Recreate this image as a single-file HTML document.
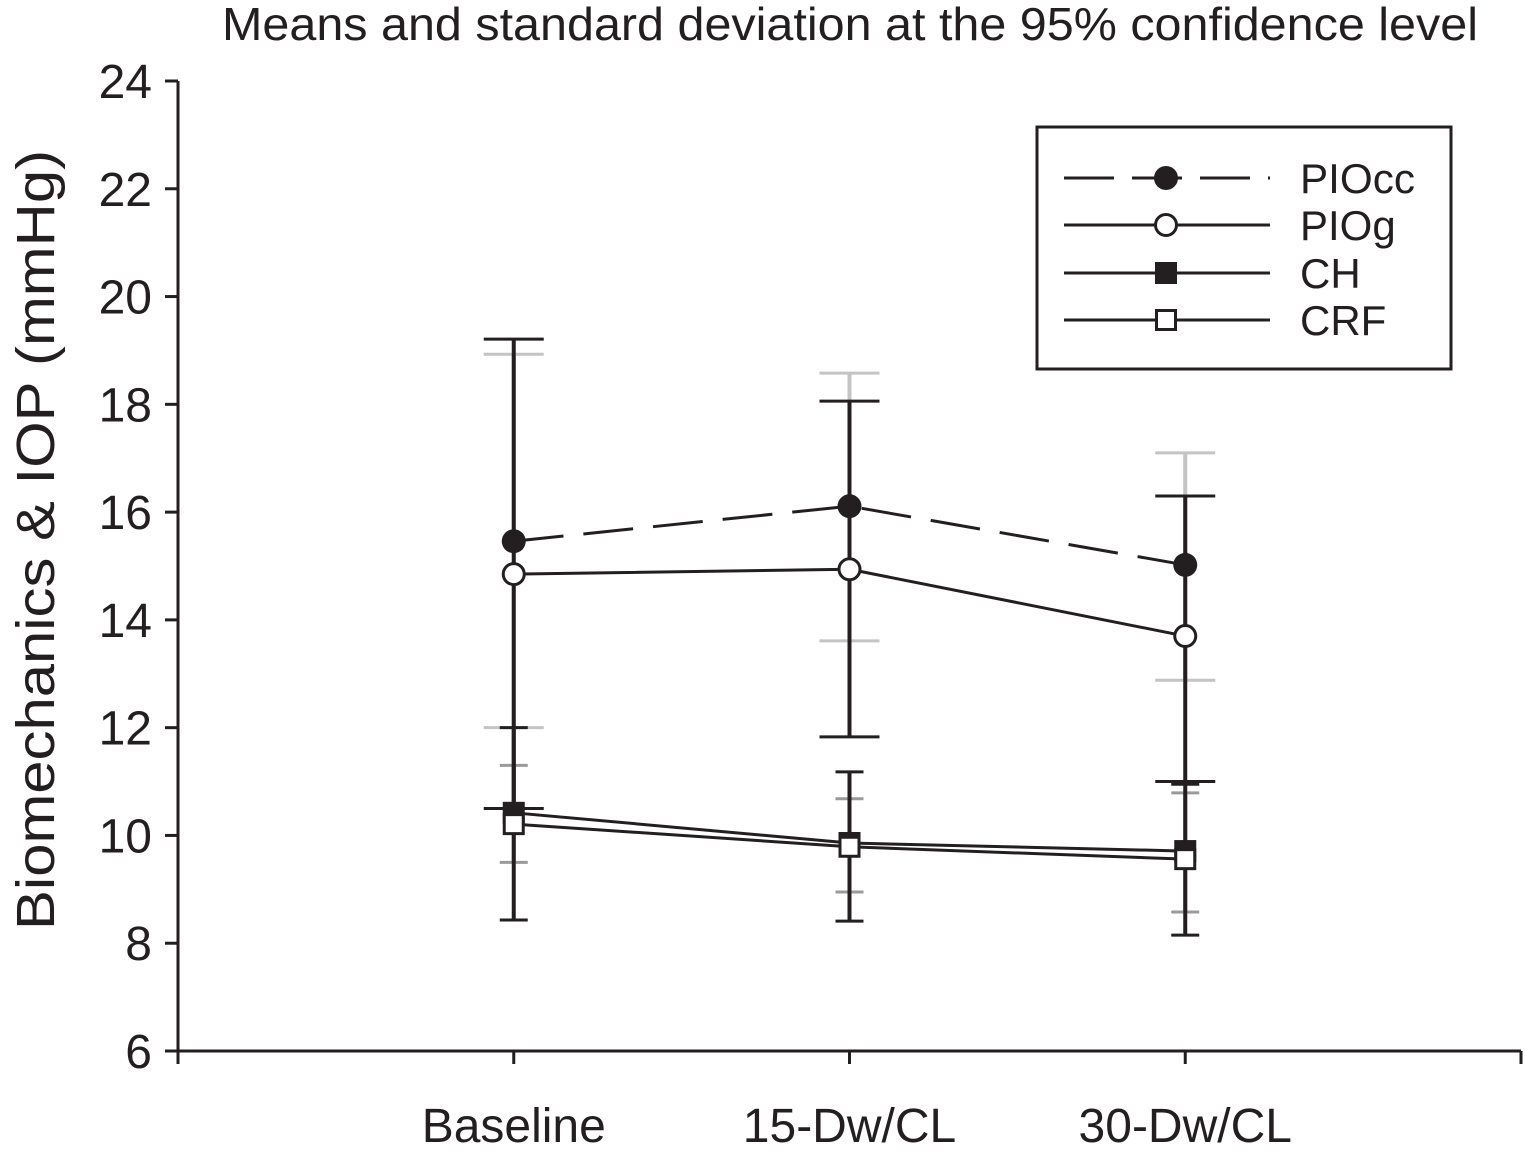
<!DOCTYPE html>
<html><head><meta charset="utf-8"><style>
html,body{margin:0;padding:0;background:#fff;}
svg{display:block;font-family:"Liberation Sans",Arial,sans-serif;}
</style></head><body>
<svg id="chart" width="1525" height="1165" viewBox="0 0 1525 1165" xmlns="http://www.w3.org/2000/svg">
<text x="850" y="40" font-size="46" text-anchor="middle" textLength="1256" lengthAdjust="spacingAndGlyphs" fill="#231f20">Means and standard deviation at the 95% confidence level</text>
<text transform="translate(54,540) rotate(-90)" font-size="54" text-anchor="middle" textLength="780" lengthAdjust="spacingAndGlyphs" fill="#231f20">Biomechanics &amp; IOP (mmHg)</text>
<g id="axes"></g>
<g id="marks"></g>
<g>
<rect x="1037" y="127" width="414" height="242" fill="#fff" stroke="#231f20" stroke-width="3"/>
<g>
<line x1="1064" y1="178" x2="1270" y2="178" stroke="#231f20" stroke-width="3" stroke-dasharray="50,18"/>
<circle cx="1166" cy="178" r="12" fill="#231f20"/>
<text x="1300" y="193" font-size="42" textLength="115" lengthAdjust="spacingAndGlyphs" fill="#231f20">PIOcc</text></g>
<g>
<line x1="1064" y1="225" x2="1270" y2="225" stroke="#231f20" stroke-width="3"/>
<circle cx="1166" cy="225" r="10.5" fill="#fff" stroke="#231f20" stroke-width="3"/>
<text x="1300" y="240" font-size="42" fill="#231f20">PIOg</text></g>
<g>
<line x1="1064" y1="273" x2="1270" y2="273" stroke="#231f20" stroke-width="3"/>
<rect x="1155" y="262" width="22" height="22" fill="#231f20"/>
<text x="1300" y="288" font-size="42" fill="#231f20">CH</text></g>
<g>
<line x1="1064" y1="320" x2="1270" y2="320" stroke="#231f20" stroke-width="3"/>
<rect x="1156.5" y="310.5" width="19" height="19" fill="#fff" stroke="#231f20" stroke-width="3"/>
<text x="1300" y="335" font-size="42" fill="#231f20">CRF</text></g>
</g>
</svg>
<script>
const categories = ["Baseline","15-Dw/CL","30-Dw/CL"];
const yTicks = [6,8,10,12,14,16,18,20,22,24];
const piocc = [15.46,16.11,15.02];
const pioccUp = [19.21,18.06,16.3];
const pioccLow = [10.5,11.83,11.0];
const piog = [14.85,14.94,13.7];
const piogUp = [18.93,18.58,17.1];
const piogLow = [12.0,13.61,12.88];
const ch = [10.42,9.86,9.71];
const chUp = [12.0,11.18,10.95];
const chLow = [8.43,8.41,8.15];
const crf = [10.21,9.79,9.56];
const crfUp = [11.3,10.68,10.79];
const crfLow = [9.5,8.95,8.58];

const NS="http://www.w3.org/2000/svg";
const L=178,R=1521,T=81,B=1051;
function yS(v){return B-(v-6)/(24-6)*(B-T);}
function xS(i){return L+(i+1)*(R-L)/4;}
const axes=document.getElementById('axes'), marks=document.getElementById('marks');
function mk(tag,attrs,parent){const e=document.createElementNS(NS,tag);for(const k in attrs)e.setAttribute(k,attrs[k]);parent.appendChild(e);return e;}
const C="#231f20";
let e=mk('line',{x1:L,y1:T,x2:L,y2:B,stroke:C,'stroke-width':3},axes);


e=mk('line',{x1:L-1.5,y1:B,x2:R,y2:B,stroke:C,'stroke-width':3},axes);


yTicks.forEach(t=>{
  const y=yS(t);
  let l=mk('line',{x1:L-13,y1:y,x2:L,y2:y,stroke:C,'stroke-width':3},axes);
  
  
  let tx=mk('text',{x:L-26,y:y+17,'font-size':48,'text-anchor':'end',fill:C},axes);
  tx.textContent=t;
  
  
});
for(let i=-1;i<=categories.length;i++){
  const x=xS(i);
  let l=mk('line',{x1:x,y1:B,x2:x,y2:B+13,stroke:C,'stroke-width':3},axes);
  
  
}
categories.forEach((c,i)=>{
  let tx=mk('text',{x:xS(i),y:1142,'font-size':48,'text-anchor':'middle',fill:C},axes);
  tx.textContent=c;
  
  
});
function errBars(up,low,color,hw,name){
  up.forEach((u,i)=>{
    const x=xS(i);
    const g=mk('g',{},marks);
    
    
    mk('line',{x1:x,y1:yS(u),x2:x,y2:yS(low[i]),stroke:color,'stroke-width':4},g);
    mk('line',{x1:x-hw,y1:yS(u),x2:x+hw,y2:yS(u),stroke:color,'stroke-width':3},g);
    mk('line',{x1:x-hw,y1:yS(low[i]),x2:x+hw,y2:yS(low[i]),stroke:color,'stroke-width':3},g);
  });
}
errBars(piogUp,piogLow,"#c4c4c4",30,'piog');
errBars(crfUp,crfLow,"#9a9a9a",14,'crf');
errBars(pioccUp,pioccLow,C,30,'piocc');
errBars(chUp,chLow,C,14,'ch');
function line(vals,dash,name){
  const pts=vals.map((v,i)=>xS(i)+','+yS(v)).join(' ');
  const p=mk('polyline',{points:pts,fill:'none',stroke:C,'stroke-width':3},marks);
  if(dash)p.setAttribute('stroke-dasharray',dash);
  
  
}
line(piocc,'50,20','piocc');line(piog,null,'piog');line(ch,null,'ch');line(crf,null,'crf');
piocc.forEach((v,i)=>{const m=mk('circle',{cx:xS(i),cy:yS(v),r:12,fill:C},marks);
  
  });
piog.forEach((v,i)=>{const m=mk('circle',{cx:xS(i),cy:yS(v),r:10.5,fill:'#fff',stroke:C,'stroke-width':3},marks);
  
  });
ch.forEach((v,i)=>{const m=mk('rect',{x:xS(i)-11,y:yS(v)-11,width:22,height:22,fill:C},marks);
  
  });
crf.forEach((v,i)=>{const m=mk('rect',{x:xS(i)-9.5,y:yS(v)-9.5,width:19,height:19,fill:'#fff',stroke:C,'stroke-width':3},marks);
  
  });
</script>
</body></html>
